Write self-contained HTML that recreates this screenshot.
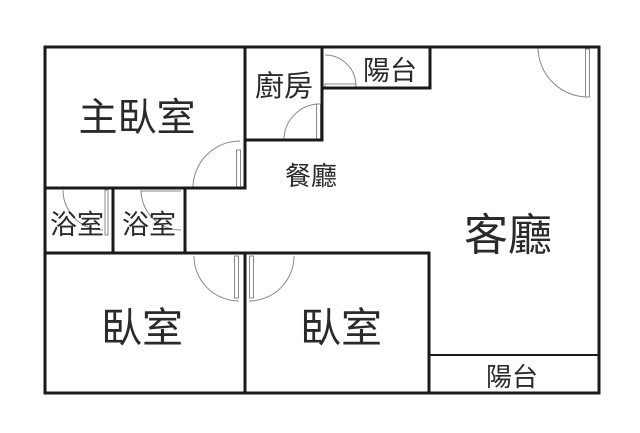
<!DOCTYPE html>
<html><head><meta charset="utf-8"><style>
html,body{margin:0;padding:0;background:#fff;}
svg{display:block;}
text{font-family:"Liberation Sans","Noto Sans CJK TC",sans-serif;fill:#2a2a2a;}
</style></head><body>
<svg width="640" height="433" viewBox="0 0 640 433" xmlns="http://www.w3.org/2000/svg">
<g fill="none" stroke="#888" stroke-width="1">
 <path d="M538,47 A50,50 0 0 0 588,97"/>
 <rect x="585.5" y="49" width="4" height="48"/>
 <path d="M193,188 A47,47 0 0 1 240,141"/>
 <rect x="236.5" y="150" width="4" height="38"/>
 <path d="M284,140 A36,36 0 0 1 320,104"/>
 <rect x="316.5" y="104" width="4" height="36"/>
 <path d="M325,55 A31,31 0 0 1 356,86"/>
 <rect x="325" y="84" width="31" height="3"/>
 <path d="M194,256 A45,45 0 0 0 239,301"/>
 <rect x="234.5" y="256" width="4" height="42"/>
 <path d="M294,256 A45,45 0 0 1 249,301"/>
 <rect x="249.5" y="256" width="4" height="42"/>
 <path d="M63,190 A40,40 0 0 0 103,230"/>
 <rect x="105" y="190" width="3" height="45"/>
 <path d="M141,190 A40,40 0 0 0 181,230"/>
 <line x1="141" y1="191" x2="181" y2="191"/>
</g>
<g fill="none" stroke="#1a1a1a" stroke-width="3" stroke-linecap="square">
 <rect x="45" y="47" width="554" height="346"/>
 <path d="M245,47 V188 H45"/>
 <path d="M245,140 H322 V47"/>
 <path d="M322,88 H430 V47"/>
 <path d="M113,188 V253"/>
 <path d="M185,188 V253"/>
 <path d="M45,253 H429 V393"/>
 <path d="M245,253 V393"/>
 <path d="M429,355 H599" stroke-width="2"/>
</g>
<text x="137" y="131" font-size="39" text-anchor="middle">主臥室</text>
<text x="284" y="96" font-size="29" text-anchor="middle">廚房</text>
<text x="390" y="80" font-size="27" text-anchor="middle">陽台</text>
<text x="311" y="185" font-size="26" text-anchor="middle">餐廳</text>
<text x="508" y="250" font-size="44" text-anchor="middle">客廳</text>
<text x="77" y="234" font-size="27" text-anchor="middle">浴室</text>
<text x="149" y="234" font-size="27" text-anchor="middle">浴室</text>
<text x="142" y="342" font-size="41" text-anchor="middle">臥室</text>
<text x="341" y="342" font-size="41" text-anchor="middle">臥室</text>
<text x="512" y="386" font-size="26" text-anchor="middle">陽台</text>
</svg>
</body></html>
